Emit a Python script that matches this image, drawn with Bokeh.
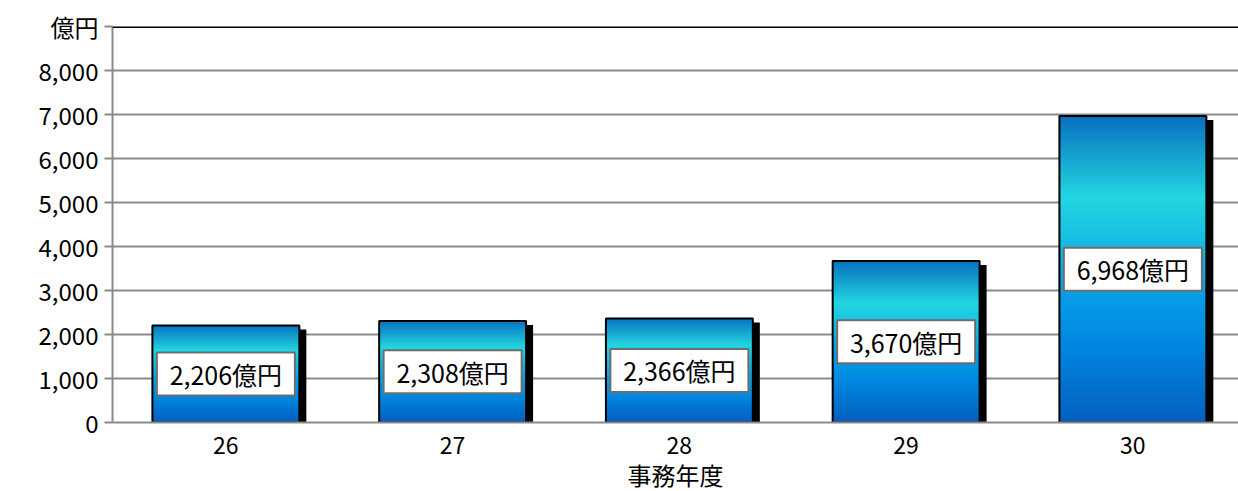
import numpy as np
from bokeh.plotting import figure
from bokeh.models import Range1d, FixedTicker, Span, ColumnDataSource, NumeralTickFormatter
from bokeh.core.properties import value
from bokeh.embed import file_html
from bokeh.resources import INLINE

# ---- data ----
years = ["26", "27", "28", "29", "30"]
amounts = [2206, 2308, 2366, 3670, 6968]
y_ticks = [0, 1000, 2000, 3000, 4000, 5000, 6000, 7000, 8000, 9000]
unit_label = "億円"
x_title = "事務年度"

FONT = "Noto Sans CJK JP"
PX_PER_CAT = 226.75
FRAME_W, FRAME_H = 1126, 396
BAR_W = 0.648
Y_MAX = 9000

p = figure(frame_width=FRAME_W, frame_height=FRAME_H, min_border_left=112, min_border_right=0,
           min_border_top=26, min_border_bottom=69, output_backend="svg", toolbar_location=None,
           x_range=Range1d(-0.5, -0.5 + FRAME_W / PX_PER_CAT), y_range=Range1d(0, Y_MAX))
p.outline_line_color = None
p.background_fill_color = "white"
p.border_fill_color = "white"

# grid
p.xgrid.visible = False
p.ygrid.ticker = FixedTicker(ticks=[t for t in y_ticks if 0 < t < Y_MAX])
p.ygrid.grid_line_color = "#8a8a8a"
p.ygrid.grid_line_width = 2
p.add_layout(Span(location=Y_MAX, dimension="width", line_color="black", line_width=3))

# axes
xs = list(range(len(years)))
p.xaxis.ticker = FixedTicker(ticks=xs)
p.xaxis.major_label_overrides = {i: y for i, y in enumerate(years)}
p.xaxis.axis_label = x_title
p.xaxis.axis_label_text_font = FONT
p.xaxis.axis_label_text_font_size = "24px"
p.xaxis.axis_label_text_font_style = "normal"
p.xaxis.axis_label_text_color = "black"
p.xaxis.axis_label_standoff = 0
p.xaxis.major_label_text_font = FONT
p.xaxis.major_label_text_font_size = "23px"
p.xaxis.major_label_text_color = "black"
p.xaxis.major_label_standoff = 8
p.xaxis.major_tick_line_color = None
p.xaxis.minor_tick_line_color = None
p.xaxis.axis_line_color = "#8a8a8a"
p.xaxis.axis_line_width = 2

p.yaxis.ticker = FixedTicker(ticks=y_ticks)
p.yaxis.formatter = NumeralTickFormatter(format="0,0")
p.yaxis.major_label_overrides = {Y_MAX: unit_label}
p.yaxis.major_label_text_font = FONT
p.yaxis.major_label_text_font_size = "24px"
p.yaxis.major_label_text_color = "black"
p.yaxis.major_label_standoff = 6
p.yaxis.major_tick_out = 8
p.yaxis.major_tick_in = 0
p.yaxis.major_tick_line_color = "#8a8a8a"
p.yaxis.major_tick_line_width = 2
p.yaxis.minor_tick_line_color = None
p.yaxis.axis_line_color = "#8a8a8a"
p.yaxis.axis_line_width = 2

# shadows
dx = 7 / PX_PER_CAT
dy = 4 * Y_MAX / FRAME_H
p.quad(left=[x - BAR_W / 2 + dx for x in xs], right=[x + BAR_W / 2 + dx for x in xs],
       top=[v - dy for v in amounts], bottom=[0] * len(xs), fill_color="black", line_color=None)

# gradient bars (strips drawn top to bottom, each slightly overlapping the one above)
stops = [0.0, 0.27, 0.55, 0.75, 1.0]  # fraction from top
cols = np.array([[8, 110, 190], [34, 214, 224], [12, 162, 230], [0, 135, 225], [4, 96, 190]], float)
N = 80
ovl = 1.0 * Y_MAX / FRAME_H
L, R, T, B, C = [], [], [], [], []
for x, v in zip(xs, amounts):
    for i in range(N):
        f0, f1 = i / N, (i + 1) / N
        fm = (f0 + f1) / 2
        rgb = [np.interp(fm, stops, cols[:, k]) for k in range(3)]
        L.append(x - BAR_W / 2)
        R.append(x + BAR_W / 2)
        T.append(v * (1 - f0) + (ovl if i > 0 else 0))
        B.append(v * (1 - f1))
        C.append("#%02x%02x%02x" % tuple(int(round(c)) for c in rgb))
p.quad(left=L, right=R, top=T, bottom=B, fill_color=C, line_color=None)
p.quad(left=[x - BAR_W / 2 for x in xs], right=[x + BAR_W / 2 for x in xs],
       top=amounts, bottom=[0] * len(xs), fill_color=None, line_color="black", line_width=2)

# value labels
src = ColumnDataSource(dict(x=xs, y=[v / 2 for v in amounts],
                            t=[f"{v:,}{unit_label}" for v in amounts]))
p.rect(x="x", y="y", width=138, height=43, width_units="screen", height_units="screen",
       source=src, fill_color="white", line_color="#6e6e6e", line_width=2)
p.text(x="x", y="y", text="t", source=src, text_align="center", text_baseline="middle",
       text_font=value(FONT), text_font_size="25px", text_color="black")

open("out.html", "w").write(file_html(p, INLINE))
